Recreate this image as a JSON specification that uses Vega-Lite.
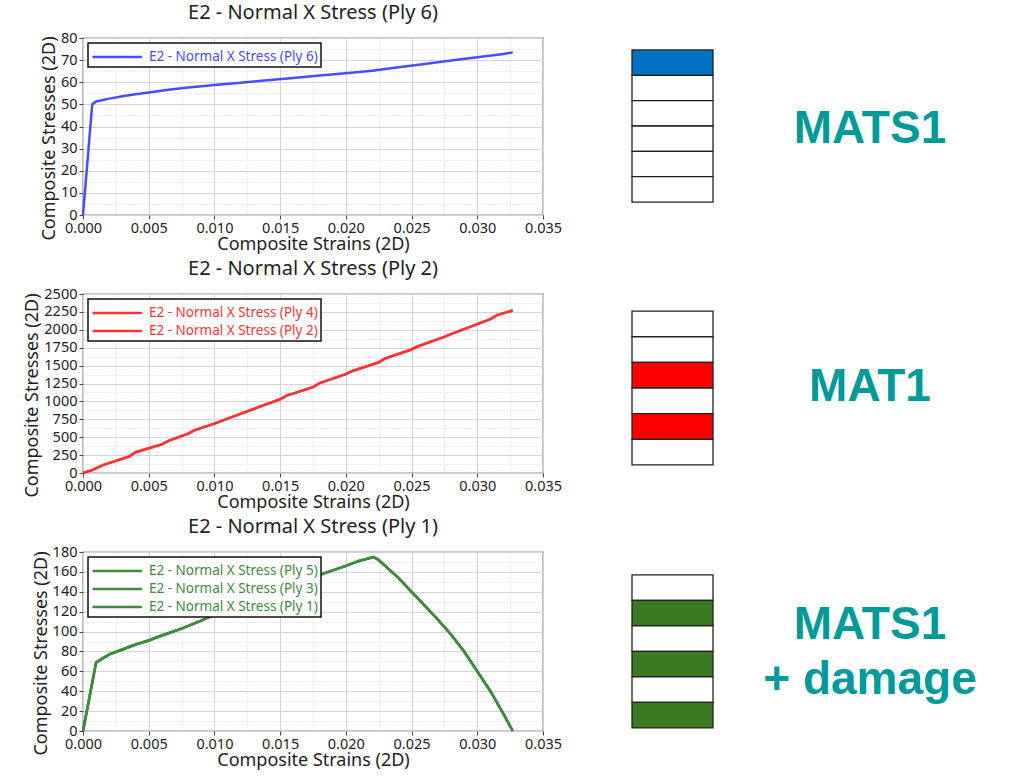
{
  "$schema": "https://vega.github.io/schema/vega-lite/v6.json",
  "padding": {"left": 23, "top": 2, "right": 5, "bottom": 5},
  "spacing": 3,
  "resolve": {"scale": {"x": "independent", "y": "independent", "color": "independent"}, "legend": {"color": "independent"}},
  "vconcat": [
    {
      "bounds": "flush",
      "spacing": 89,
      "resolve": {"scale": {"x": "independent", "y": "independent", "color": "independent"}, "legend": {"color": "independent"}},
      "hconcat": [
        {
          "width": 460,
          "height": 177,
          "title": "E2 - Normal X Stress (Ply 6)",
          "data": {
            "values": [
              {"strain": 0, "E2 - Normal X Stress (Ply 6)": 0},
              {"strain": 0.0007, "E2 - Normal X Stress (Ply 6)": 50},
              {"strain": 0.001, "E2 - Normal X Stress (Ply 6)": 51.3},
              {"strain": 0.0015, "E2 - Normal X Stress (Ply 6)": 52},
              {"strain": 0.002, "E2 - Normal X Stress (Ply 6)": 52.6},
              {"strain": 0.003, "E2 - Normal X Stress (Ply 6)": 53.7},
              {"strain": 0.004, "E2 - Normal X Stress (Ply 6)": 54.6},
              {"strain": 0.005, "E2 - Normal X Stress (Ply 6)": 55.4},
              {"strain": 0.0065, "E2 - Normal X Stress (Ply 6)": 56.6},
              {"strain": 0.008, "E2 - Normal X Stress (Ply 6)": 57.6},
              {"strain": 0.01, "E2 - Normal X Stress (Ply 6)": 58.8},
              {"strain": 0.012, "E2 - Normal X Stress (Ply 6)": 59.8},
              {"strain": 0.014, "E2 - Normal X Stress (Ply 6)": 60.9},
              {"strain": 0.016, "E2 - Normal X Stress (Ply 6)": 61.9},
              {"strain": 0.018, "E2 - Normal X Stress (Ply 6)": 63},
              {"strain": 0.02, "E2 - Normal X Stress (Ply 6)": 64.1},
              {"strain": 0.022, "E2 - Normal X Stress (Ply 6)": 65.2},
              {"strain": 0.024, "E2 - Normal X Stress (Ply 6)": 66.8},
              {"strain": 0.026, "E2 - Normal X Stress (Ply 6)": 68.3},
              {"strain": 0.028, "E2 - Normal X Stress (Ply 6)": 69.8},
              {"strain": 0.03, "E2 - Normal X Stress (Ply 6)": 71.3},
              {"strain": 0.032, "E2 - Normal X Stress (Ply 6)": 72.8},
              {"strain": 0.0327, "E2 - Normal X Stress (Ply 6)": 73.5}
            ]
          },
          "transform": [
            {"fold": ["E2 - Normal X Stress (Ply 6)"], "as": ["series", "stress"]}
          ],
          "mark": {"type": "line", "strokeWidth": 2.5},
          "encoding": {
            "x": {
              "field": "strain", "type": "quantitative",
              "scale": {"domain": [0, 0.035], "nice": false},
              "axis": {
                "title": "Composite Strains (2D)",
                "values": [0, 0.0025, 0.005, 0.0075, 0.01, 0.0125, 0.015, 0.0175, 0.02, 0.0225, 0.025, 0.0275, 0.03, 0.0325, 0.035],
                "labelExpr": "round(datum.value*400)%2==1 ? '' : format(datum.value, '.3f')",
                "gridDash": {"condition": {"test": "round(datum.value*400)%2==1", "value": [1, 2]}, "value": []},
                "tickOpacity": {"condition": {"test": "round(datum.value*400)%2==1", "value": 0}, "value": 1}
              }
            },
            "y": {
              "field": "stress", "type": "quantitative",
              "scale": {"domain": [0, 80], "nice": false},
              "axis": {
                "title": "Composite Stresses (2D)",
                "titleY": 100,
                "values": [0, 5, 10, 15, 20, 25, 30, 35, 40, 45, 50, 55, 60, 65, 70, 75, 80],
                "labelExpr": "datum.value%10!=0 ? '' : datum.label",
                "gridDash": {"condition": {"test": "datum.value%10!=0", "value": [1, 2]}, "value": []},
                "tickOpacity": {"condition": {"test": "datum.value%10!=0", "value": 0}, "value": 1}
              }
            },
            "color": {
              "field": "series", "type": "nominal",
              "scale": {"range": ["#4b4bff"]},
              "legend": {"title": null, "labelColor": "#4b4bff"}
            }
          }
        },
        {
          "width": 81,
          "height": 177,
          "view": {"stroke": null},
          "data": {
            "values": [
              {"ply": 6, "active": true},
              {"ply": 5, "active": false},
              {"ply": 4, "active": false},
              {"ply": 3, "active": false},
              {"ply": 2, "active": false},
              {"ply": 1, "active": false}
            ]
          },
          "mark": {"type": "rect", "stroke": "#222", "strokeWidth": 1.3},
          "encoding": {
            "y": {
              "field": "ply", "type": "ordinal", "sort": "descending",
              "scale": {"paddingInner": 0, "paddingOuter": 0.49, "align": 0.48},
              "axis": null
            },
            "x": {"value": 0},
            "x2": {"value": "width"},
            "fill": {"condition": {"test": "datum.active", "value": "#0070c0"}, "value": "white"}
          }
        },
        {
          "width": 136,
          "height": 177,
          "view": {"stroke": null},
          "data": {"values": [{"label": "MATS1"}]},
          "mark": {"type": "text", "font": "Liberation Sans", "fontWeight": "bold", "fontSize": 46, "color": "#009a9a", "baseline": "middle", "align": "center", "dy": 2.5},
          "encoding": {"text": {"field": "label"}}
        }
      ]
    },
    {
      "bounds": "flush",
      "spacing": 89,
      "resolve": {"scale": {"x": "independent", "y": "independent", "color": "independent"}, "legend": {"color": "independent"}},
      "hconcat": [
        {
          "width": 460,
          "height": 179,
          "title": "E2 - Normal X Stress (Ply 2)",
          "data": {
            "values": [
              {"strain": 0, "E2 - Normal X Stress (Ply 4)": 0, "E2 - Normal X Stress (Ply 2)": 0},
              {"strain": 0.0007, "E2 - Normal X Stress (Ply 4)": 40, "E2 - Normal X Stress (Ply 2)": 40},
              {"strain": 0.0015, "E2 - Normal X Stress (Ply 4)": 110, "E2 - Normal X Stress (Ply 2)": 110},
              {"strain": 0.0025, "E2 - Normal X Stress (Ply 4)": 170, "E2 - Normal X Stress (Ply 2)": 170},
              {"strain": 0.0035, "E2 - Normal X Stress (Ply 4)": 230, "E2 - Normal X Stress (Ply 2)": 230},
              {"strain": 0.004, "E2 - Normal X Stress (Ply 4)": 290, "E2 - Normal X Stress (Ply 2)": 290},
              {"strain": 0.005, "E2 - Normal X Stress (Ply 4)": 345, "E2 - Normal X Stress (Ply 2)": 345},
              {"strain": 0.006, "E2 - Normal X Stress (Ply 4)": 400, "E2 - Normal X Stress (Ply 2)": 400},
              {"strain": 0.0065, "E2 - Normal X Stress (Ply 4)": 450, "E2 - Normal X Stress (Ply 2)": 450},
              {"strain": 0.008, "E2 - Normal X Stress (Ply 4)": 550, "E2 - Normal X Stress (Ply 2)": 550},
              {"strain": 0.0085, "E2 - Normal X Stress (Ply 4)": 600, "E2 - Normal X Stress (Ply 2)": 600},
              {"strain": 0.01, "E2 - Normal X Stress (Ply 4)": 690, "E2 - Normal X Stress (Ply 2)": 690},
              {"strain": 0.011, "E2 - Normal X Stress (Ply 4)": 760, "E2 - Normal X Stress (Ply 2)": 760},
              {"strain": 0.0125, "E2 - Normal X Stress (Ply 4)": 860, "E2 - Normal X Stress (Ply 2)": 860},
              {"strain": 0.0135, "E2 - Normal X Stress (Ply 4)": 930, "E2 - Normal X Stress (Ply 2)": 930},
              {"strain": 0.015, "E2 - Normal X Stress (Ply 4)": 1030, "E2 - Normal X Stress (Ply 2)": 1030},
              {"strain": 0.0155, "E2 - Normal X Stress (Ply 4)": 1080, "E2 - Normal X Stress (Ply 2)": 1080},
              {"strain": 0.0175, "E2 - Normal X Stress (Ply 4)": 1200, "E2 - Normal X Stress (Ply 2)": 1200},
              {"strain": 0.018, "E2 - Normal X Stress (Ply 4)": 1255, "E2 - Normal X Stress (Ply 2)": 1255},
              {"strain": 0.02, "E2 - Normal X Stress (Ply 4)": 1380, "E2 - Normal X Stress (Ply 2)": 1380},
              {"strain": 0.0205, "E2 - Normal X Stress (Ply 4)": 1425, "E2 - Normal X Stress (Ply 2)": 1425},
              {"strain": 0.0225, "E2 - Normal X Stress (Ply 4)": 1545, "E2 - Normal X Stress (Ply 2)": 1545},
              {"strain": 0.023, "E2 - Normal X Stress (Ply 4)": 1600, "E2 - Normal X Stress (Ply 2)": 1600},
              {"strain": 0.025, "E2 - Normal X Stress (Ply 4)": 1725, "E2 - Normal X Stress (Ply 2)": 1725},
              {"strain": 0.0255, "E2 - Normal X Stress (Ply 4)": 1770, "E2 - Normal X Stress (Ply 2)": 1770},
              {"strain": 0.0275, "E2 - Normal X Stress (Ply 4)": 1900, "E2 - Normal X Stress (Ply 2)": 1900},
              {"strain": 0.028, "E2 - Normal X Stress (Ply 4)": 1940, "E2 - Normal X Stress (Ply 2)": 1940},
              {"strain": 0.03, "E2 - Normal X Stress (Ply 4)": 2080, "E2 - Normal X Stress (Ply 2)": 2080},
              {"strain": 0.031, "E2 - Normal X Stress (Ply 4)": 2150, "E2 - Normal X Stress (Ply 2)": 2150},
              {"strain": 0.0315, "E2 - Normal X Stress (Ply 4)": 2205, "E2 - Normal X Stress (Ply 2)": 2205},
              {"strain": 0.0327, "E2 - Normal X Stress (Ply 4)": 2270, "E2 - Normal X Stress (Ply 2)": 2270}
            ]
          },
          "transform": [
            {"fold": ["E2 - Normal X Stress (Ply 4)", "E2 - Normal X Stress (Ply 2)"], "as": ["series", "stress"]}
          ],
          "mark": {"type": "line", "strokeWidth": 2.5},
          "encoding": {
            "x": {
              "field": "strain", "type": "quantitative",
              "scale": {"domain": [0, 0.035], "nice": false},
              "axis": {
                "title": "Composite Strains (2D)",
                "values": [0, 0.0025, 0.005, 0.0075, 0.01, 0.0125, 0.015, 0.0175, 0.02, 0.0225, 0.025, 0.0275, 0.03, 0.0325, 0.035],
                "labelExpr": "round(datum.value*400)%2==1 ? '' : format(datum.value, '.3f')",
                "gridDash": {"condition": {"test": "round(datum.value*400)%2==1", "value": [1, 2]}, "value": []},
                "tickOpacity": {"condition": {"test": "round(datum.value*400)%2==1", "value": 0}, "value": 1}
              }
            },
            "y": {
              "field": "stress", "type": "quantitative",
              "scale": {"domain": [0, 2500], "nice": false},
              "axis": {
                "title": "Composite Stresses (2D)",
                "titleY": 101,
                "values": [0, 125, 250, 375, 500, 625, 750, 875, 1000, 1125, 1250, 1375, 1500, 1625, 1750, 1875, 2000, 2125, 2250, 2375, 2500],
                "labelExpr": "datum.value%250!=0 ? '' : format(datum.value, 'd')",
                "gridDash": {"condition": {"test": "datum.value%250!=0", "value": [1, 2]}, "value": []},
                "tickOpacity": {"condition": {"test": "datum.value%250!=0", "value": 0}, "value": 1}
              }
            },
            "color": {
              "field": "series", "type": "nominal",
              "sort": ["E2 - Normal X Stress (Ply 4)", "E2 - Normal X Stress (Ply 2)"],
              "scale": {"range": ["#ff3333", "#ff3333"]},
              "legend": {"title": null, "labelColor": "#ff3333"}
            }
          }
        },
        {
          "width": 81,
          "height": 179,
          "view": {"stroke": null},
          "data": {
            "values": [
              {"ply": 6, "active": false},
              {"ply": 5, "active": false},
              {"ply": 4, "active": true},
              {"ply": 3, "active": false},
              {"ply": 2, "active": true},
              {"ply": 1, "active": false}
            ]
          },
          "mark": {"type": "rect", "stroke": "#222", "strokeWidth": 1.3},
          "encoding": {
            "y": {
              "field": "ply", "type": "ordinal", "sort": "descending",
              "scale": {"paddingInner": 0, "paddingOuter": 0.49, "align": 0.68},
              "axis": null
            },
            "x": {"value": 0},
            "x2": {"value": "width"},
            "fill": {"condition": {"test": "datum.active", "value": "#ff0000"}, "value": "white"}
          }
        },
        {
          "width": 136,
          "height": 179,
          "view": {"stroke": null},
          "data": {"values": [{"label": "MAT1"}]},
          "mark": {"type": "text", "font": "Liberation Sans", "fontWeight": "bold", "fontSize": 46, "color": "#009a9a", "baseline": "middle", "align": "center", "dy": 3.5},
          "encoding": {"text": {"field": "label"}}
        }
      ]
    },
    {
      "bounds": "flush",
      "spacing": 89,
      "resolve": {"scale": {"x": "independent", "y": "independent", "color": "independent"}, "legend": {"color": "independent"}},
      "hconcat": [
        {
          "width": 460,
          "height": 179,
          "title": "E2 - Normal X Stress (Ply 1)",
          "data": {
            "values": [
              {"strain": 0, "E2 - Normal X Stress (Ply 5)": 0, "E2 - Normal X Stress (Ply 3)": 0, "E2 - Normal X Stress (Ply 1)": 0},
              {"strain": 0.001, "E2 - Normal X Stress (Ply 5)": 69, "E2 - Normal X Stress (Ply 3)": 69, "E2 - Normal X Stress (Ply 1)": 69},
              {"strain": 0.0015, "E2 - Normal X Stress (Ply 5)": 73, "E2 - Normal X Stress (Ply 3)": 73, "E2 - Normal X Stress (Ply 1)": 73},
              {"strain": 0.002, "E2 - Normal X Stress (Ply 5)": 77, "E2 - Normal X Stress (Ply 3)": 77, "E2 - Normal X Stress (Ply 1)": 77},
              {"strain": 0.003, "E2 - Normal X Stress (Ply 5)": 82, "E2 - Normal X Stress (Ply 3)": 82, "E2 - Normal X Stress (Ply 1)": 82},
              {"strain": 0.004, "E2 - Normal X Stress (Ply 5)": 87, "E2 - Normal X Stress (Ply 3)": 87, "E2 - Normal X Stress (Ply 1)": 87},
              {"strain": 0.005, "E2 - Normal X Stress (Ply 5)": 91, "E2 - Normal X Stress (Ply 3)": 91, "E2 - Normal X Stress (Ply 1)": 91},
              {"strain": 0.006, "E2 - Normal X Stress (Ply 5)": 96, "E2 - Normal X Stress (Ply 3)": 96, "E2 - Normal X Stress (Ply 1)": 96},
              {"strain": 0.0075, "E2 - Normal X Stress (Ply 5)": 103, "E2 - Normal X Stress (Ply 3)": 103, "E2 - Normal X Stress (Ply 1)": 103},
              {"strain": 0.009, "E2 - Normal X Stress (Ply 5)": 111, "E2 - Normal X Stress (Ply 3)": 111, "E2 - Normal X Stress (Ply 1)": 111},
              {"strain": 0.01, "E2 - Normal X Stress (Ply 5)": 117, "E2 - Normal X Stress (Ply 3)": 117, "E2 - Normal X Stress (Ply 1)": 117},
              {"strain": 0.012, "E2 - Normal X Stress (Ply 5)": 127, "E2 - Normal X Stress (Ply 3)": 127, "E2 - Normal X Stress (Ply 1)": 127},
              {"strain": 0.014, "E2 - Normal X Stress (Ply 5)": 138, "E2 - Normal X Stress (Ply 3)": 138, "E2 - Normal X Stress (Ply 1)": 138},
              {"strain": 0.016, "E2 - Normal X Stress (Ply 5)": 148, "E2 - Normal X Stress (Ply 3)": 148, "E2 - Normal X Stress (Ply 1)": 148},
              {"strain": 0.018, "E2 - Normal X Stress (Ply 5)": 157, "E2 - Normal X Stress (Ply 3)": 157, "E2 - Normal X Stress (Ply 1)": 157},
              {"strain": 0.02, "E2 - Normal X Stress (Ply 5)": 166, "E2 - Normal X Stress (Ply 3)": 166, "E2 - Normal X Stress (Ply 1)": 166},
              {"strain": 0.021, "E2 - Normal X Stress (Ply 5)": 171, "E2 - Normal X Stress (Ply 3)": 171, "E2 - Normal X Stress (Ply 1)": 171},
              {"strain": 0.0221, "E2 - Normal X Stress (Ply 5)": 175, "E2 - Normal X Stress (Ply 3)": 175, "E2 - Normal X Stress (Ply 1)": 175},
              {"strain": 0.0225, "E2 - Normal X Stress (Ply 5)": 172, "E2 - Normal X Stress (Ply 3)": 172, "E2 - Normal X Stress (Ply 1)": 172},
              {"strain": 0.024, "E2 - Normal X Stress (Ply 5)": 154, "E2 - Normal X Stress (Ply 3)": 154, "E2 - Normal X Stress (Ply 1)": 154},
              {"strain": 0.025, "E2 - Normal X Stress (Ply 5)": 140, "E2 - Normal X Stress (Ply 3)": 140, "E2 - Normal X Stress (Ply 1)": 140},
              {"strain": 0.026, "E2 - Normal X Stress (Ply 5)": 126, "E2 - Normal X Stress (Ply 3)": 126, "E2 - Normal X Stress (Ply 1)": 126},
              {"strain": 0.027, "E2 - Normal X Stress (Ply 5)": 112, "E2 - Normal X Stress (Ply 3)": 112, "E2 - Normal X Stress (Ply 1)": 112},
              {"strain": 0.028, "E2 - Normal X Stress (Ply 5)": 97, "E2 - Normal X Stress (Ply 3)": 97, "E2 - Normal X Stress (Ply 1)": 97},
              {"strain": 0.029, "E2 - Normal X Stress (Ply 5)": 80, "E2 - Normal X Stress (Ply 3)": 80, "E2 - Normal X Stress (Ply 1)": 80},
              {"strain": 0.03, "E2 - Normal X Stress (Ply 5)": 60, "E2 - Normal X Stress (Ply 3)": 60, "E2 - Normal X Stress (Ply 1)": 60},
              {"strain": 0.031, "E2 - Normal X Stress (Ply 5)": 40, "E2 - Normal X Stress (Ply 3)": 40, "E2 - Normal X Stress (Ply 1)": 40},
              {"strain": 0.032, "E2 - Normal X Stress (Ply 5)": 17, "E2 - Normal X Stress (Ply 3)": 17, "E2 - Normal X Stress (Ply 1)": 17},
              {"strain": 0.0327, "E2 - Normal X Stress (Ply 5)": 0, "E2 - Normal X Stress (Ply 3)": 0, "E2 - Normal X Stress (Ply 1)": 0}
            ]
          },
          "transform": [
            {"fold": ["E2 - Normal X Stress (Ply 5)", "E2 - Normal X Stress (Ply 3)", "E2 - Normal X Stress (Ply 1)"], "as": ["series", "stress"]}
          ],
          "mark": {"type": "line", "strokeWidth": 2.5},
          "encoding": {
            "x": {
              "field": "strain", "type": "quantitative",
              "scale": {"domain": [0, 0.035], "nice": false},
              "axis": {
                "title": "Composite Strains (2D)",
                "values": [0, 0.0025, 0.005, 0.0075, 0.01, 0.0125, 0.015, 0.0175, 0.02, 0.0225, 0.025, 0.0275, 0.03, 0.0325, 0.035],
                "labelExpr": "round(datum.value*400)%2==1 ? '' : format(datum.value, '.3f')",
                "gridDash": {"condition": {"test": "round(datum.value*400)%2==1", "value": [1, 2]}, "value": []},
                "tickOpacity": {"condition": {"test": "round(datum.value*400)%2==1", "value": 0}, "value": 1}
              }
            },
            "y": {
              "field": "stress", "type": "quantitative",
              "scale": {"domain": [0, 180], "nice": false},
              "axis": {
                "title": "Composite Stresses (2D)",
                "titleY": 101,
                "values": [0, 10, 20, 30, 40, 50, 60, 70, 80, 90, 100, 110, 120, 130, 140, 150, 160, 170, 180],
                "labelExpr": "datum.value%20!=0 ? '' : datum.label",
                "gridDash": {"condition": {"test": "datum.value%20!=0", "value": [1, 2]}, "value": []},
                "tickOpacity": {"condition": {"test": "datum.value%20!=0", "value": 0}, "value": 1}
              }
            },
            "color": {
              "field": "series", "type": "nominal",
              "sort": ["E2 - Normal X Stress (Ply 5)", "E2 - Normal X Stress (Ply 3)", "E2 - Normal X Stress (Ply 1)"],
              "scale": {"range": ["#3d8b3d", "#3d8b3d", "#3d8b3d"]},
              "legend": {"title": null, "labelColor": "#3d8b3d"}
            }
          }
        },
        {
          "width": 81,
          "height": 179,
          "view": {"stroke": null},
          "data": {
            "values": [
              {"ply": 6, "active": false},
              {"ply": 5, "active": true},
              {"ply": 4, "active": false},
              {"ply": 3, "active": true},
              {"ply": 2, "active": false},
              {"ply": 1, "active": true}
            ]
          },
          "mark": {"type": "rect", "stroke": "#222", "strokeWidth": 1.3},
          "encoding": {
            "y": {
              "field": "ply", "type": "ordinal", "sort": "descending",
              "scale": {"paddingInner": 0, "paddingOuter": 0.51, "align": 0.88},
              "axis": null
            },
            "x": {"value": 0},
            "x2": {"value": "width"},
            "fill": {"condition": {"test": "datum.active", "value": "#3b7a21"}, "value": "white"}
          }
        },
        {
          "width": 136,
          "height": 179,
          "view": {"stroke": null},
          "data": {"values": [{"label": "MATS1\n+ damage"}]},
          "mark": {"type": "text", "font": "Liberation Sans", "fontWeight": "bold", "fontSize": 46, "color": "#009a9a", "baseline": "middle", "align": "center", "lineBreak": "\n", "lineHeight": 55, "dy": -17},
          "encoding": {"text": {"field": "label"}}
        }
      ]
    }
  ],
  "config": {
    "font": "Noto Sans",
    "view": {"stroke": "#222", "strokeWidth": 1.2},
    "title": {"fontSize": 20, "fontWeight": "normal", "color": "#222", "offset": 7, "anchor": "middle", "frame": "group"},
    "axis": {
      "labelFont": "Noto Sans", "labelFontSize": 14.5, "labelColor": "#222", "labelFlush": false, "labelOverlap": false, "labelPadding": 2,
      "titleFont": "Noto Sans", "titleFontSize": 18, "titleFontWeight": "normal", "titleColor": "#222", "titlePadding": 2,
      "domain": false, "ticks": true, "tickSize": 4, "tickColor": "#444",
      "grid": true, "gridColor": "#d4d4d4", "gridWidth": 1
    },
    "axisX": {"titlePadding": 1},
    "axisY": {"titleLimit": 215},
    "legend": {
      "orient": "top-left", "offset": 5, "padding": 3, "strokeColor": "#111", "strokeWidth": 1.5, "fillColor": "white",
      "symbolType": "M-1,0H4.2", "symbolSize": 361, "symbolStrokeWidth": 2.5, "labelOffset": 36, "labelLimit": 400,
      "labelFont": "Noto Sans", "labelFontSize": 13.5, "rowPadding": 0
    }
  }
}
